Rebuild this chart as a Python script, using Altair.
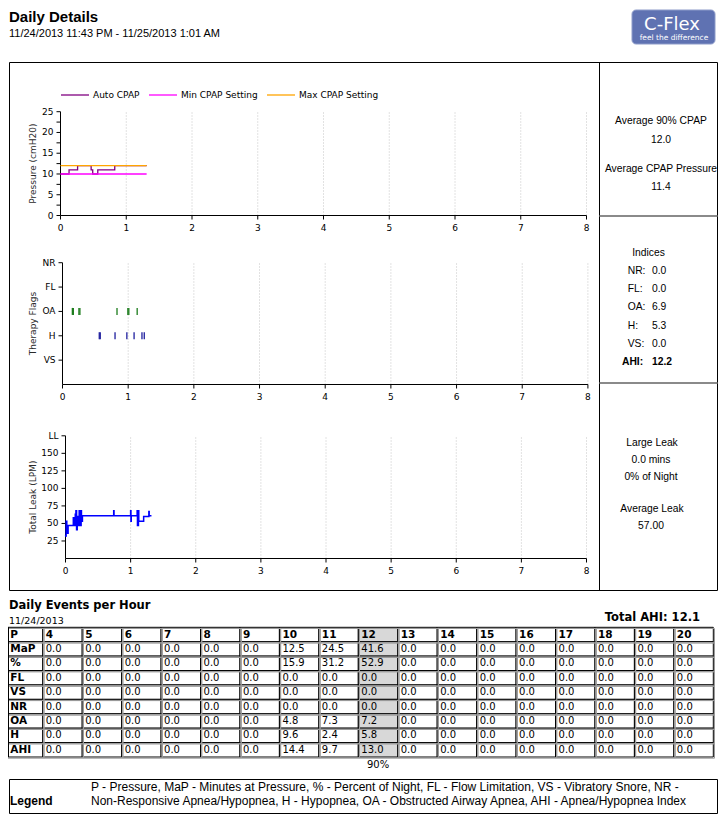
import altair as alt
import pandas as pd

FV = "DejaVu Sans"      # Verdana-like
FT = "Liberation Sans"  # Tahoma-like

# ---------------- text content ----------------
report_title = "Daily Details"
report_range = "11/24/2013 11:43 PM - 11/25/2013 1:01 AM"
logo_name = "C-Flex"
logo_tagline = "feel the difference"

# ---------------- shared hour axis ----------------
hour_ticks = [0, 1, 2, 3, 4, 5, 6, 7, 8]
hour_labels = ["0", "1", "2", "3", "4", "5", "6", "7", "8"]
grid_hours = [1, 2, 3, 4, 5, 6, 7, 8]

# ---------------- pressure panel ----------------
pressure_title = "Pressure (cmH20)"
pressure_series = ["Auto CPAP", "Min CPAP Setting", "Max CPAP Setting"]
pressure_colors = ["#800080", "#ff00ff", "#ffa500"]
pressure_ticks = [0, 2.5, 5, 7.5, 10, 12.5, 15, 17.5, 20, 22.5, 25]
pressure_labels = ["0", "", "5", "", "10", "", "15", "", "20", "", "25"]
auto_cpap_hours = [0.0, 0.13, 0.13, 0.26, 0.26, 0.466, 0.466, 0.49, 0.49, 0.567, 0.567, 0.825, 0.825, 1.31]
auto_cpap_values = [10, 10, 11, 11, 12, 12, 11, 11, 10, 10, 11, 11, 12, 12]
setting_hours = [0.0, 1.31]
min_cpap_values = [10, 10]
max_cpap_values = [12, 12]

# ---------------- therapy flags panel ----------------
flags_title = "Therapy Flags"
flag_names = ["VS", "H", "OA", "FL", "NR"]          # bottom to top
flag_ticks = [1, 2, 3, 4, 5]
flag_event_names = ["OA", "H"]
flag_colors = ["#1c7c1c", "#1e1e9e"]
oa_hours = [0.15, 0.165, 0.25, 0.265, 0.83, 0.995, 1.01, 1.137]
h_hours = [0.56, 0.575, 0.80, 0.98, 1.09, 1.21, 1.245]

# ---------------- leak panel ----------------
leak_title = "Total Leak (LPM)"
leak_ticks = [25, 50, 75, 100, 125, 150, 175]
leak_labels = ["25", "50", "75", "100", "125", "150", "LL"]
leak_color = "#0000ff"
leak_hours = [0.00, 0.01, 0.01, 0.02, 0.02, 0.04, 0.04, 0.12,
              0.12, 0.13, 0.13, 0.15, 0.15, 0.16, 0.16, 0.17,
              0.17, 0.18, 0.18, 0.20, 0.20, 0.21, 0.21, 0.22,
              0.22, 0.24, 0.24, 0.245, 0.245, 0.26, 0.26, 0.74,
              0.74, 0.745, 0.745, 1.00, 1.00, 1.005, 1.005, 1.01,
              1.01, 1.10, 1.10, 1.105, 1.105, 1.12, 1.12, 1.125,
              1.125, 1.20, 1.20, 1.28, 1.28, 1.285, 1.285, 1.32]
leak_values = [34, 31, 53, 53, 36, 36, 47, 47,
               58, 58, 47, 47, 63, 63, 68, 68,
               41, 41, 60, 60, 47, 47, 68, 68,
               47, 47, 68, 68, 53, 53, 61, 61,
               68, 68, 61, 61, 68, 68, 53, 53,
               61, 61, 68, 68, 47, 47, 68, 68,
               53, 53, 60, 60, 67, 67, 61, 61]

# ---------------- right column statistics ----------------
pressure_stats = ["Average 90% CPAP", "12.0", "Average CPAP Pressure", "11.4"]
index_title = "Indices"
index_names = ["NR", "FL", "OA", "H", "VS", "AHI"]
index_values = ["0.0", "0.0", "6.9", "5.3", "0.0", "12.2"]
leak_stats = ["Large Leak", "0.0 mins", "0% of Night", "Average Leak", "57.00"]

# ---------------- events table ----------------
table_title = "Daily Events per Hour"
table_date = "11/24/2013"
total_ahi = "Total AHI: 12.1"
header_label = "P"
hour_bins = ["4", "5", "6", "7", "8", "9", "10", "11", "12", "13", "14", "15", "16", "17", "18", "19", "20"]
row_names = ["MaP", "%", "FL", "VS", "NR", "OA", "H", "AHI"]
map_values = [0.0, 0.0, 0.0, 0.0, 0.0, 0.0, 12.5, 24.5, 41.6, 0.0, 0.0, 0.0, 0.0, 0.0, 0.0, 0.0, 0.0]
pct_values = [0.0, 0.0, 0.0, 0.0, 0.0, 0.0, 15.9, 31.2, 52.9, 0.0, 0.0, 0.0, 0.0, 0.0, 0.0, 0.0, 0.0]
fl_values = [0.0, 0.0, 0.0, 0.0, 0.0, 0.0, 0.0, 0.0, 0.0, 0.0, 0.0, 0.0, 0.0, 0.0, 0.0, 0.0, 0.0]
vs_values = [0.0, 0.0, 0.0, 0.0, 0.0, 0.0, 0.0, 0.0, 0.0, 0.0, 0.0, 0.0, 0.0, 0.0, 0.0, 0.0, 0.0]
nr_values = [0.0, 0.0, 0.0, 0.0, 0.0, 0.0, 0.0, 0.0, 0.0, 0.0, 0.0, 0.0, 0.0, 0.0, 0.0, 0.0, 0.0]
oa_values = [0.0, 0.0, 0.0, 0.0, 0.0, 0.0, 4.8, 7.3, 7.2, 0.0, 0.0, 0.0, 0.0, 0.0, 0.0, 0.0, 0.0]
h_values = [0.0, 0.0, 0.0, 0.0, 0.0, 0.0, 9.6, 2.4, 5.8, 0.0, 0.0, 0.0, 0.0, 0.0, 0.0, 0.0, 0.0]
ahi_values = [0.0, 0.0, 0.0, 0.0, 0.0, 0.0, 14.4, 9.7, 13.0, 0.0, 0.0, 0.0, 0.0, 0.0, 0.0, 0.0, 0.0]
highlight_bin = "12"
highlight_label = "90%"

legend_title = "Legend"
legend_line1 = "P - Pressure, MaP - Minutes at Pressure, % - Percent of Night, FL - Flow Limitation, VS - Vibratory Snore, NR -"
legend_line2 = "Non-Responsive Apnea/Hypopnea, H - Hypopnea, OA - Obstructed Airway Apnea, AHI - Apnea/Hypopnea Index"

# =====================================================================
W, H = 710, 806
ONE = pd.DataFrame({"k": [0]})


def txt(s, x, y, size=11, font=FT, weight="normal", align="left", baseline="middle", color="#000"):
    return alt.Chart(ONE).mark_text(
        text=s, font=font, fontSize=size, fontWeight=weight, align=align,
        baseline=baseline, color=color
    ).encode(x=alt.value(x), y=alt.value(y))


def box(x1, y1, x2, y2, stroke="#000", sw=1, fill=None, radius=0):
    kw = dict(stroke=stroke, strokeWidth=sw, cornerRadius=radius)
    if fill is None:
        kw["fill"] = "transparent"
        kw["fillOpacity"] = 0
    else:
        kw["fill"] = fill
    return alt.Chart(ONE).mark_rect(**kw).encode(
        x=alt.value(x1), x2=alt.value(x2), y=alt.value(y1), y2=alt.value(y2))


def hline(x1, x2, y, color="#000", sw=1):
    return alt.Chart(ONE).mark_rule(color=color, strokeWidth=sw).encode(
        x=alt.value(x1), x2=alt.value(x2), y=alt.value(y))


def vline(x, y1, y2, color="#000", sw=1):
    return alt.Chart(ONE).mark_rule(color=color, strokeWidth=sw).encode(
        x=alt.value(x), y=alt.value(y1), y2=alt.value(y2))


def panel_axes(xs, ys, y_max, y_vals, y_labs, y_title, y_mid):
    """Axis lines, ticks, tick labels and title drawn through the panel's own scales."""
    xdf = pd.DataFrame({"v": hour_ticks, "lab": hour_labels})
    ydf = pd.DataFrame({"v": y_vals, "lab": y_labs})
    x0 = alt.XDatum(0, scale=xs, axis=None)
    y0 = alt.YDatum(0, scale=ys, axis=None)
    dom_x = alt.Chart(ONE).mark_rule(color="#000", strokeWidth=1).encode(
        x=x0, x2=alt.X2Datum(hour_ticks[-1]), y=y0)
    dom_y = alt.Chart(ONE).mark_rule(color="#000", strokeWidth=1).encode(
        x=x0, y=y0, y2=alt.Y2Datum(y_max))
    xt = alt.Chart(xdf).mark_tick(orient="vertical", size=4, thickness=1, yOffset=2,
                                  color="#000", opacity=1).encode(
        x=alt.X("v:Q", scale=xs, axis=None), y=y0)
    xl = alt.Chart(xdf).mark_text(font=FV, fontSize=9, align="center", baseline="middle",
                                  dy=12, color="#000").encode(
        x=alt.X("v:Q", scale=xs, axis=None), y=y0, text="lab:N")
    yt = alt.Chart(ydf).mark_tick(orient="horizontal", size=4, thickness=1, xOffset=-2,
                                  color="#000", opacity=1).encode(
        x=x0, y=alt.Y("v:Q", scale=ys, axis=None))
    yl = alt.Chart(ydf).mark_text(font=FV, fontSize=9, align="right", baseline="middle",
                                  dx=-7, color="#000").encode(
        x=x0, y=alt.Y("v:Q", scale=ys, axis=None), text="lab:N")
    yti = alt.Chart(ONE).mark_text(text=y_title, angle=270, font=FV, fontSize=9, color="#2a2a2a",
                                   align="center", baseline="middle").encode(
        x=alt.value(25.3), y=alt.YDatum(y_mid, scale=ys, axis=None))
    return [dom_x, dom_y, xt, xl, yt, yl, yti]


def grid(xs, ys, y0, y1):
    df = pd.DataFrame({"h": grid_hours})
    return alt.Chart(df).mark_rule(color="#c4c4c4", strokeDash=[1, 2], strokeWidth=1).encode(
        x=alt.X("h:Q", scale=xs, axis=None),
        y=alt.YDatum(y0, scale=ys, axis=None),
        y2=alt.Y2Datum(y1))


# ---------------- panel 1: pressure ----------------
px1 = alt.Scale(domain=[0, 8], range=[52.5, 578.5], nice=False, zero=False)
py1 = alt.Scale(domain=[0, 25], range=[207.5, 103.7], nice=False)
c1 = alt.Scale(domain=pressure_series, range=pressure_colors)
auto_df = pd.DataFrame({"series": pressure_series[0], "hour": auto_cpap_hours,
                        "p": auto_cpap_values, "i": list(range(len(auto_cpap_hours)))})
set_df = pd.concat([
    pd.DataFrame({"series": pressure_series[1], "hour": setting_hours, "p": min_cpap_values, "i": [0, 1]}),
    pd.DataFrame({"series": pressure_series[2], "hour": setting_hours, "p": max_cpap_values, "i": [0, 1]}),
])
leg1 = alt.Legend(orient="none", legendX=52, legendY=72, direction="horizontal", title=None,
                  symbolType="stroke", symbolSize=784, symbolStrokeWidth=1.3, labelFont=FV,
                  labelFontSize=9, labelColor="#000", labelOffset=3, columnPadding=6, padding=0)
p1_line = alt.Chart(auto_df).mark_line(strokeWidth=1.3).encode(
    x=alt.X("hour:Q", scale=px1, axis=None),
    y=alt.Y("p:Q", scale=py1, axis=None),
    color=alt.Color("series:N", scale=c1, legend=leg1),
    order="i:Q")
p1_set = alt.Chart(set_df).mark_line(strokeWidth=1.3).encode(
    x=alt.X("hour:Q", scale=px1, axis=None),
    y=alt.Y("p:Q", scale=py1, axis=None),
    color=alt.Color("series:N", scale=c1, legend=None),
    order="i:Q")
panel1 = alt.layer(grid(px1, py1, 0, 25), *panel_axes(px1, py1, 25, pressure_ticks, pressure_labels,
                                                      pressure_title, 12.5), p1_line, p1_set)

# ---------------- panel 2: therapy flags ----------------
px2 = alt.Scale(domain=[0, 8], range=[54.5, 579.9], nice=False, zero=False)
py2 = alt.Scale(domain=[0, 5], range=[376.5, 254.7], nice=False)
ev_df = pd.DataFrame({"flag": [flag_event_names[0]] * len(oa_hours) + [flag_event_names[1]] * len(h_hours),
                      "hour": oa_hours + h_hours})
ev_df["level"] = [flag_names.index(f) + 1 for f in ev_df["flag"]]
p2_ticks = alt.Chart(ev_df).mark_tick(orient="vertical", size=7, thickness=1.3, opacity=1).encode(
    x=alt.X("hour:Q", scale=px2, axis=None),
    y=alt.Y("level:Q", scale=py2, axis=None),
    color=alt.Color("flag:N", scale=alt.Scale(domain=flag_event_names, range=flag_colors), legend=None))
panel2 = alt.layer(grid(px2, py2, 0, 5), *panel_axes(px2, py2, 5, flag_ticks, flag_names,
                                                     flags_title, 2.5), p2_ticks)

# ---------------- panel 3: leak ----------------
px3 = alt.Scale(domain=[0, 8], range=[57.5, 578.5], nice=False, zero=False)
py3 = alt.Scale(domain=[0, 175], range=[550.5, 427.8], nice=False)
leak_df = pd.DataFrame({"hour": leak_hours, "leak": leak_values, "i": list(range(len(leak_hours)))})
p3_line = alt.Chart(leak_df).mark_line(color=leak_color, strokeWidth=1.5).encode(
    x=alt.X("hour:Q", scale=px3, axis=None),
    y=alt.Y("leak:Q", scale=py3, axis=None),
    order="i:Q")
panel3 = alt.layer(grid(px3, py3, 0, 175), *panel_axes(px3, py3, 175, leak_ticks, leak_labels,
                                                       leak_title, 87.5), p3_line)

# ---------------- right column ----------------
idx_df = pd.DataFrame({"name": index_names, "val": index_values,
                       "lab": [n + ":" for n in index_names]})
iy = alt.Scale(domain=index_names, range=[262.7, 354.3], type="point", padding=0)
idx_norm = idx_df[idx_df["name"] != "AHI"]
idx_bold = idx_df[idx_df["name"] == "AHI"]
RS = 10.3
idx_layers = alt.layer(
    alt.Chart(idx_norm).mark_text(font=FT, fontSize=RS, align="left", baseline="middle").encode(
        x=alt.value(619.7), y=alt.Y("name:N", scale=iy, axis=None), text="lab:N"),
    alt.Chart(idx_norm).mark_text(font=FT, fontSize=RS, align="left", baseline="middle").encode(
        x=alt.value(644), y=alt.Y("name:N", scale=iy, axis=None), text="val:N"),
    alt.Chart(idx_bold).mark_text(font=FT, fontSize=RS, fontWeight="bold", align="left", baseline="middle").encode(
        x=alt.value(614), y=alt.Y("name:N", scale=iy, axis=None), text="lab:N"),
    alt.Chart(idx_bold).mark_text(font=FT, fontSize=RS, fontWeight="bold", align="left", baseline="middle").encode(
        x=alt.value(644), y=alt.Y("name:N", scale=iy, axis=None), text="val:N"),
)

# ---------------- table ----------------
cols = [header_label] + hour_bins
rows = [header_label] + row_names
recs = [{"row": header_label, "col": c, "t": c, "b": 1} for c in cols]
for name, vals in zip(row_names, [map_values, pct_values, fl_values, vs_values, nr_values,
                                  oa_values, h_values, ahi_values]):
    recs.append({"row": name, "col": header_label, "t": name, "b": 1})
    for hb, v in zip(hour_bins, vals):
        recs.append({"row": name, "col": hb, "t": "%.1f" % v, "b": 0})
tab_df = pd.DataFrame(recs)
tx = alt.Scale(domain=cols, range=[-4.7, 705.3], paddingInner=0, paddingOuter=0)
ty = alt.Scale(domain=rows, range=[619.3, 749], paddingInner=0, paddingOuter=0)
cells = alt.Chart(tab_df).mark_rect(stroke="#000", strokeWidth=1).encode(
    x=alt.X("col:N", scale=tx, axis=None),
    y=alt.Y("row:N", scale=ty, axis=None),
    fill=alt.condition(alt.datum.col == highlight_bin, alt.value("#d8d8d8"), alt.value("#ffffff")))
# sunken-cell shading: a grey line just inside each black cell border
shade = alt.Chart(tab_df).mark_rect(stroke="#9a9a9a", strokeWidth=1, fillOpacity=0, fill="transparent",
                                    xOffset=1.2, x2Offset=1.2, yOffset=1.2, y2Offset=1.2).encode(
    x=alt.X("col:N", scale=tx, axis=None),
    y=alt.Y("row:N", scale=ty, axis=None))
body_df = tab_df[tab_df["b"] == 0]
head_df = tab_df[(tab_df["b"] == 1) & (tab_df["col"] != header_label)]
lab_df = tab_df[tab_df["col"] == header_label]
cell_txt_n = alt.Chart(body_df).mark_text(
    font=FV, fontSize=10, align="left", baseline="middle", dx=3, color="#000").encode(
    x=alt.X("col:N", scale=tx, axis=None, bandPosition=0),
    y=alt.Y("row:N", scale=ty, axis=None), text="t:N")
cell_txt_h = alt.Chart(head_df).mark_text(
    font=FV, fontSize=10.5, fontWeight="bold", align="left", baseline="middle", dx=3, color="#000").encode(
    x=alt.X("col:N", scale=tx, axis=None, bandPosition=0),
    y=alt.Y("row:N", scale=ty, axis=None), text="t:N")
cell_txt_l = alt.Chart(lab_df).mark_text(
    font=FV, fontSize=10.5, fontWeight="bold", align="left", baseline="middle", dx=7, color="#000").encode(
    x=alt.X("col:N", scale=tx, axis=None, bandPosition=0),
    y=alt.Y("row:N", scale=ty, axis=None), text="t:N")
ninety = alt.Chart(ONE).mark_text(text=highlight_label, font=FV, fontSize=10, align="center",
                                  baseline="middle", color="#000").encode(
    x=alt.XDatum(highlight_bin, type="nominal", scale=tx, axis=None), y=alt.value(757))
table = alt.layer(cells, shade, cell_txt_n, cell_txt_h, cell_txt_l, ninety)

# ---------------- assemble ----------------
layers = [
    # header
    txt(report_title, 1, 13.5, size=15, weight="bold", baseline="alphabetic"),
    txt(report_range, 1, 26, size=11),
    box(624, 2, 707, 36, stroke="#8d9bc9", sw=1, fill="#5f72b2", radius=4),
    txt(logo_name, 664, 22, size=18, font=FV, align="center", baseline="alphabetic", color="#ffffff"),
    txt(logo_tagline, 666, 29.5, size=7.5, font=FV, align="center", color="#ffffff"),
    # main frame
    box(1.5, 54.5, 709.5, 582.5),
    vline(591.5, 54.5, 582.5),
    hline(591.5, 709.5, 208, color="#8a8a8a", sw=2),
    hline(591.5, 709.5, 375, color="#8a8a8a", sw=2),
    # panels
    panel1, panel2, panel3,
    # right column text
    txt(pressure_stats[0], 653, 113, size=RS, align="center"),
    txt(pressure_stats[1], 653, 132, size=RS, align="center"),
    txt(pressure_stats[2], 653, 161.3, size=RS, align="center"),
    txt(pressure_stats[3], 653, 178.7, size=RS, align="center"),
    txt(index_title, 640.5, 244.7, size=RS, align="center"),
    idx_layers,
    txt(leak_stats[0], 644, 435.3, size=RS, align="center"),
    txt(leak_stats[1], 643, 452, size=RS, align="center"),
    txt(leak_stats[2], 643, 469.3, size=RS, align="center"),
    txt(leak_stats[3], 644, 501, size=RS, align="center"),
    txt(leak_stats[4], 643, 518, size=RS, align="center"),
    # table
    txt(table_title, 1, 598, size=11.5, font=FV, weight="bold"),
    txt(table_date, 1, 613, size=9.5, font=FV),
    txt(total_ahi, 692, 609.5, size=11.5, font=FV, weight="bold", align="right"),
    table,
    vline(0.5, 619.3, 749),
    # legend box
    box(1.5, 771.5, 709.5, 805.5),
    txt(legend_title, 2, 793, size=12, weight="bold"),
    txt(legend_line1, 83, 779, size=12),
    txt(legend_line2, 83, 793, size=12),
]

chart = alt.layer(*layers).resolve_scale(
    x="independent", y="independent", color="independent", fill="independent"
).resolve_legend(color="independent").properties(
    width=W, height=H, padding=0, autosize=alt.AutoSizeParams(type="none"), background="#ffffff"
).configure_view(strokeWidth=0)

chart.save("out.html", embed_options={"renderer": "svg", "actions": False})
